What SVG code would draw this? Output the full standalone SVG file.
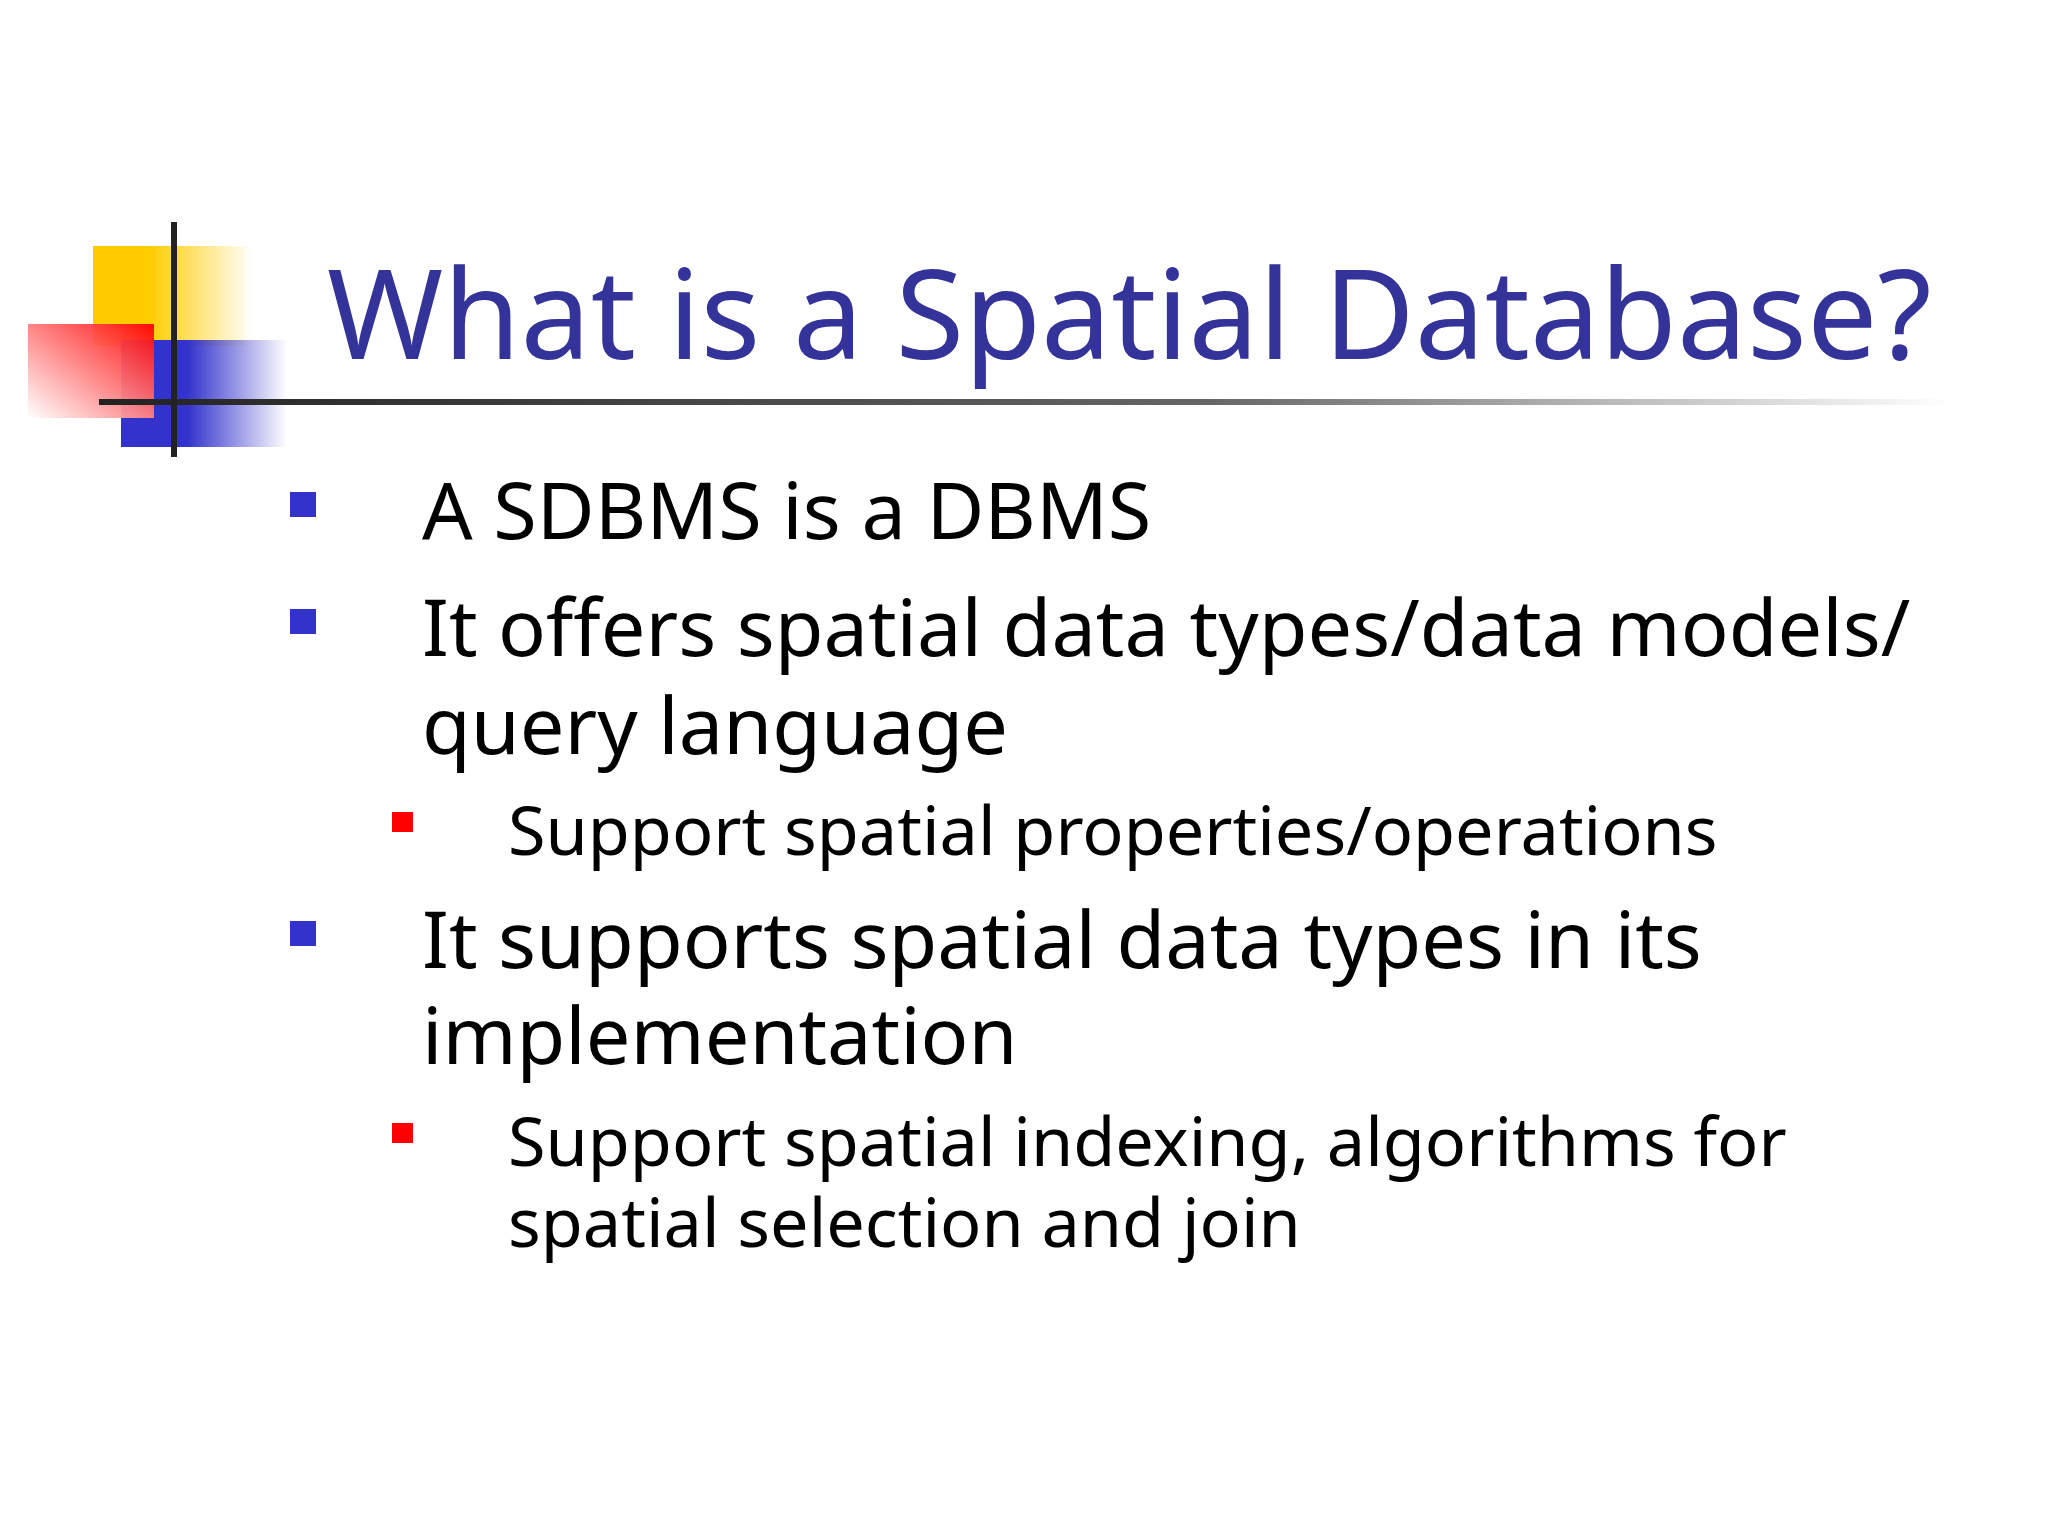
<svg xmlns="http://www.w3.org/2000/svg" width="2048" height="1536" viewBox="0 0 2048 1536">
<defs>
<linearGradient id="gy" x1="0" y1="0" x2="1" y2="0"><stop offset="0.35" stop-color="#ffcc00"/><stop offset="1" stop-color="#ffcc00" stop-opacity="0"/></linearGradient>
<linearGradient id="gb" x1="0" y1="0" x2="1" y2="0"><stop offset="0.4" stop-color="#3333cc"/><stop offset="1" stop-color="#3333cc" stop-opacity="0"/></linearGradient>
<linearGradient id="gr" x1="1" y1="0" x2="0" y2="1"><stop offset="0" stop-color="#ff0000"/><stop offset="1" stop-color="#ffffff"/></linearGradient>
<linearGradient id="gl" x1="0" y1="0" x2="1" y2="0"><stop offset="0" stop-color="#222"/><stop offset="0.6" stop-color="#666"/><stop offset="1" stop-color="#666" stop-opacity="0"/></linearGradient>
<style>
.m{font-family:"Noto Sans","DejaVu Sans",sans-serif;font-size:79.3px;fill:#000}
.s{font-family:"Noto Sans","DejaVu Sans",sans-serif;font-size:68.4px;fill:#000}
</style>
</defs>
<rect width="2048" height="1536" fill="#fff"/>
<g id="logo">
<rect x="93" y="246" width="160" height="100" fill="url(#gy)"/>
<rect x="121" y="340" width="166" height="107" fill="url(#gb)"/>
<rect x="28" y="324" width="126" height="94" fill="url(#gr)" opacity="0.95"/>
<rect x="99" y="399" width="1850" height="6" fill="url(#gl)"/>
<rect x="171" y="222" width="6" height="235" fill="#222"/>
</g>
<text x="327" y="359" font-family="Noto Sans, DejaVu Sans, sans-serif" font-size="125" fill="#333399">What is a Spatial Database?</text>
<g fill="#3333cc"><rect x="290" y="492" width="26" height="25"/><rect x="290" y="609" width="26" height="25"/><rect x="290" y="921" width="26" height="25"/></g>
<g fill="#ff0000"><rect x="392" y="812" width="21" height="20"/><rect x="392" y="1123" width="21" height="20"/></g>
<text class="m" x="422" y="539">A SDBMS is a DBMS</text>
<text class="m" x="422" y="656">It offers spatial data types/data models/</text>
<text class="m" x="422" y="754">query language</text>
<text class="s" x="508" y="855">Support spatial properties/operations</text>
<text class="m" x="422" y="968">It supports spatial data types in its</text>
<text class="m" x="422" y="1064">implementation</text>
<text class="s" x="508" y="1166">Support spatial indexing, algorithms for</text>
<text class="s" x="508" y="1247">spatial selection and join</text>
</svg>
